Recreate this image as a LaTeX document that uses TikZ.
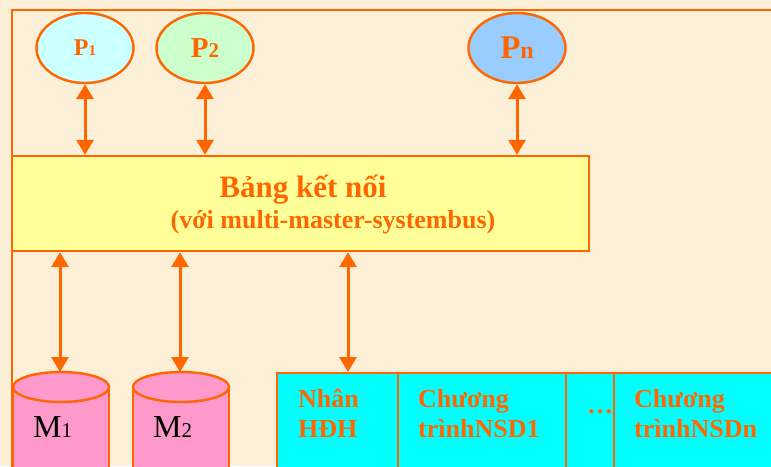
\documentclass[tikz,border=0pt]{standalone}
\usepackage{fontspec}
\setmainfont{Liberation Serif}
\usetikzlibrary{shapes.geometric,arrows.meta}
\definecolor{cam}{HTML}{FF6600}
\definecolor{nen}{HTML}{FBEFD8}
\definecolor{vang}{HTML}{FFFF99}
\definecolor{hong}{HTML}{FF99CC}
\definecolor{xanh}{HTML}{00FFFF}
\definecolor{pa}{HTML}{CCFFFF}
\definecolor{pb}{HTML}{CCFFCC}
\definecolor{pc}{HTML}{99CCFF}
\newcommand{\cochu}[1]{\fontsize{#1}{#1}\selectfont}

\begin{document}
\begin{tikzpicture}[x=1pt,y=-1pt,>={Triangle[width=17pt,length=15pt]},
    vien/.style={draw=cam,line width=2.4pt},
    muiten/.style={<->,draw=cam,fill=cam,line width=3pt},
    chu/.style={text=cam,font=\bfseries,align=left,inner sep=0pt},
    tientrinh/.style={ellipse,vien,minimum width=97,minimum height=70,inner sep=0pt,text=cam,font=\bfseries},
    o/.style={vien,fill=xanh,anchor=north west,minimum height=120,inner sep=0pt}]
    \useasboundingbox (0,0) rectangle (771,466);
    \clip (0,0) rectangle (771,466);
    \fill[nen] (0,0) rectangle (771,466);
    \draw[draw=cam,line width=2pt] (800,10) -- (12,10) -- (12,500);
    % cac tien trinh
    \node[tientrinh,fill=pa] (p1) at (85,48) {\cochu{24}P\cochu{15}1};
    \node[tientrinh,fill=pb] (p2) at (205,48) {\cochu{29}P\cochu{21}2};
    \node[tientrinh,fill=pc] (pn) at (517,48) {\cochu{33}P\cochu{24}n};
    % bang ket noi
    \node[vien,fill=vang,minimum width=577,minimum height=95,inner sep=0pt] (bang) at (300.5,203.5) {};
    \node[chu,anchor=base] (ten) at (303,197) {\cochu{31}Bảng kết nối};
    \node[chu,anchor=base] (bus) at (333,228) {\cochu{26}(với multi-master-systembus)};
    \draw[muiten] (p1.south) -- (p1.south |- bang.north);
    \draw[muiten] (p2.south) -- (p2.south |- bang.north);
    \draw[muiten] (pn.south) -- (pn.south |- bang.north);
    % bo nho
    \fill[hong] (13,387) rectangle (109,480);
    \draw[vien] (13,387) -- (13,480) (109,387) -- (109,480);
    \draw[vien,fill=hong] (61,387) ellipse [x radius=48,y radius=15];
    \fill[hong] (133,387) rectangle (229,480);
    \draw[vien] (133,387) -- (133,480) (229,387) -- (229,480);
    \draw[vien,fill=hong] (181,387) ellipse [x radius=48,y radius=15];
    \coordinate (m1) at (60,372);
    \coordinate (m2) at (180,372);
    \node[anchor=base west,inner sep=0pt] (tm1) at (33,437) {\cochu{32}M\cochu{21}1};
    \node[anchor=base west,inner sep=0pt] (tm2) at (153,437) {\cochu{32}M\cochu{21}2};
    % he dieu hanh va cac chuong trinh
    \node[o,minimum width=121] (nhan) at (276,372) {};
    \node[o,minimum width=168] (nsd1) at (397,372) {};
    \node[o,minimum width=48] (chamcham) at (565,372) {};
    \node[o,minimum width=200] (nsdn) at (613,372) {};
    \coordinate (vao) at (348,372);
    \node[chu,anchor=base west] (t1) at (298,407) {\cochu{26}Nhân};
    \node[chu,anchor=base west] (t1b) at (298,437) {\cochu{26}HĐH};
    \node[chu,anchor=base west] (t2) at (418,407) {\cochu{26}Chương};
    \node[chu,anchor=base west] (t2b) at (418,437) {\cochu{26}trìnhNSD1};
    \node[chu,anchor=base west] (t3) at (587,413) {\cochu{26}…};
    \node[chu,anchor=base west] (t4) at (634,407) {\cochu{26}Chương};
    \node[chu,anchor=base west] (t4b) at (634,437) {\cochu{26}trìnhNSDn};
    \draw[muiten] (m1 |- bang.south) -- (m1);
    \draw[muiten] (m2 |- bang.south) -- (m2);
    \draw[muiten] (vao |- bang.south) -- (vao);
\end{tikzpicture}
\end{document}
